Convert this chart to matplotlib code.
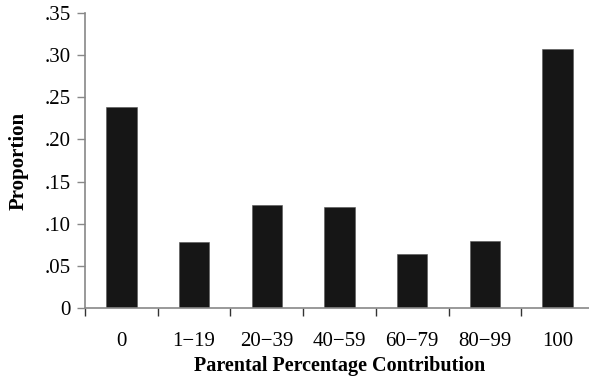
import matplotlib.pyplot as plt
import numpy as np

categories = ['0', '1\u221219', '20\u221239', '40\u221259', '60\u221279', '80\u221299', '100']
proportions = [0.238, 0.078, 0.122, 0.120, 0.064, 0.079, 0.307]
yticks = [0, 0.05, 0.10, 0.15, 0.20, 0.25, 0.30, 0.35]
ytick_labels = ['0', '.05', '.10', '.15', '.20', '.25', '.30', '.35']

plt.rcParams['font.family'] = ['Liberation Serif', 'DejaVu Serif']

fig = plt.figure(figsize=(5.89, 3.81), dpi=100)
ax = fig.add_axes([0.1443, 0.1916, 0.8642, 0.7743])

x = np.arange(len(categories))
ax.bar(x, proportions, width=0.42, color='#161616', edgecolor='#555555', linewidth=0.4)

ax.set_xlim(-0.5, len(categories) - 0.5)
ax.set_ylim(0, 0.35)
ax.set_yticks(yticks)
ax.set_yticklabels(ytick_labels, fontsize=15)
ax.set_xticks(x)
ax.set_xticklabels(categories, fontsize=15)
ax.set_xticks(np.arange(len(categories) + 1) - 0.5, minor=True)
ax.tick_params(axis='x', which='major', length=0, pad=17)
ax.tick_params(axis='x', which='minor', length=6, width=1, color='#333333')
ax.tick_params(axis='y', length=6, width=1, color='#888888', pad=4)

for s in ['top', 'right']:
    ax.spines[s].set_visible(False)
for s in ['left', 'bottom']:
    ax.spines[s].set_color('#888888')
    ax.spines[s].set_linewidth(1.2)

ax.set_xlabel('Parental Percentage Contribution', fontsize=14.5, fontweight='bold', labelpad=4)
ax.set_ylabel('Proportion', fontsize=15, fontweight='bold', labelpad=12)

fig.savefig('out.png', dpi=100)
